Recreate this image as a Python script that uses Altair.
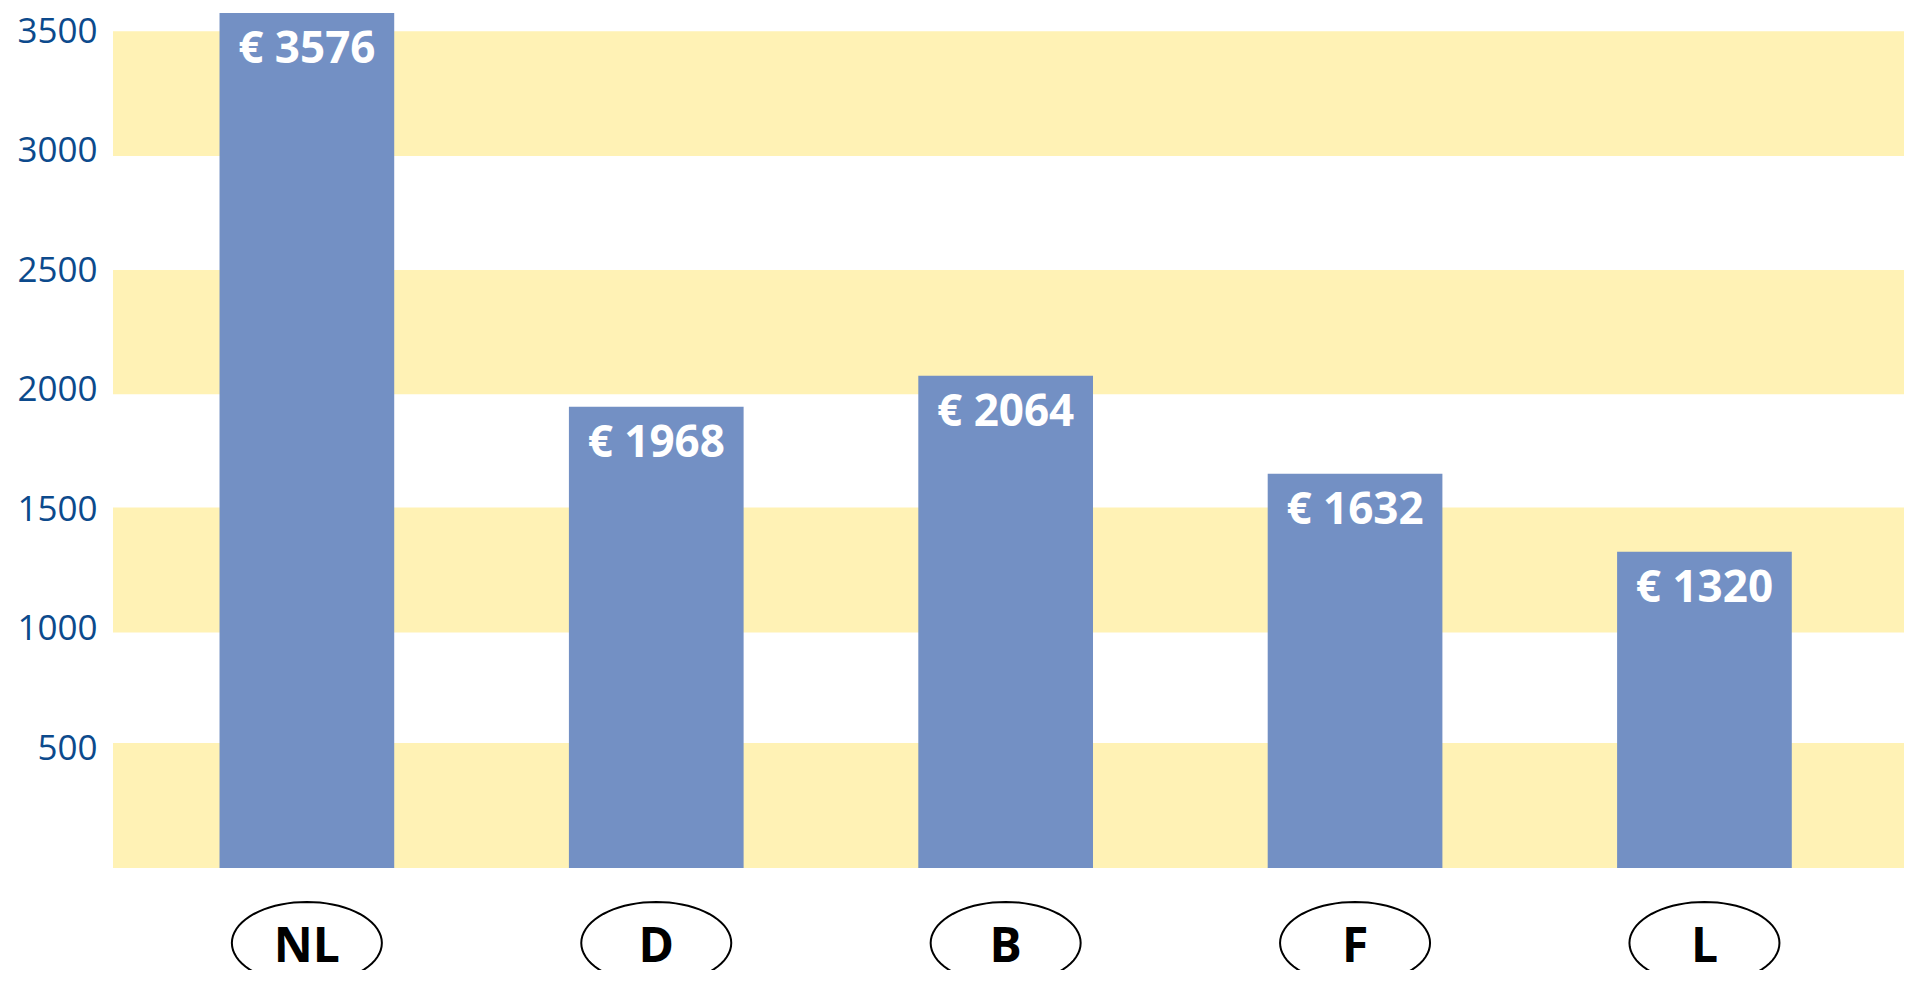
import math
import altair as alt
import pandas as pd

# ---- data ----
countries = ["NL", "D", "B", "F", "L"]
bar_heights = [3576, 1929, 2059, 1649, 1323]      # bar heights as drawn
label_values = [3576, 1968, 2064, 1632, 1320]     # printed amounts
band_lo = [0, 985, 1981, 2978]
band_hi = [523, 1508, 2501, 3500]
tick_values = [500, 1000, 1500, 2000, 2500, 3000, 3500]

# ---- layout ----
W = 1791
H = 860
Y_MAX = 3597
FONT = "Open Sans"
BAR_COLOR = "#7390c4"
BAND_COLOR = "#fff2b5"
AXIS_COLOR = "#0c4a8c"

bars_df = pd.DataFrame({
    "country": countries,
    "value": bar_heights,
    "label": ["€ " + str(v) for v in label_values],
})
bands_df = pd.DataFrame({"lo": band_lo, "hi": band_hi})

x_scale = alt.Scale(domain=countries, paddingInner=0.5, paddingOuter=0.313, align=0.487)
y_scale = alt.Scale(domain=[0, Y_MAX], nice=False, zero=True)

y_axis = alt.Axis(
    values=tick_values, format="d", title=None, grid=False, domain=False, ticks=False,
    labelFont=FONT, labelFontSize=35, labelColor=AXIS_COLOR, labelPadding=16,
    labelBaseline="middle",
)

bands = alt.Chart(bands_df).mark_rect(color=BAND_COLOR).encode(
    x=alt.value(0), x2=alt.value(W),
    y=alt.Y("lo:Q", scale=y_scale, axis=y_axis), y2="hi:Q",
)

bars = alt.Chart(bars_df).mark_bar(color=BAR_COLOR).encode(
    x=alt.X("country:N", scale=x_scale, axis=None, sort=countries),
    y=alt.Y("value:Q", scale=y_scale),
)

bar_text = alt.Chart(bars_df).mark_text(
    color="white", font=FONT, fontSize=44, fontWeight="bold",
    baseline="alphabetic", align="center", dy=50,
).encode(
    x=alt.X("country:N", scale=x_scale, axis=None, sort=countries),
    y=alt.Y("value:Q", scale=y_scale),
    text="label:N",
)

# ellipse outline as a symbol path (unit box, aspect 1 : 0.547)
ry = 0.547
pts = []
for k in range(72):
    a = 2 * math.pi * k / 72
    pts.append(f"{math.cos(a):.4f},{ry * math.sin(a):.4f}")
ellipse_path = "M" + " L".join(pts) + " Z"

ellipses = alt.Chart(bars_df).mark_point(
    shape=ellipse_path, filled=True, fill="white", stroke="black",
    strokeWidth=2, size=22500, opacity=1,
).encode(
    x=alt.X("country:N", scale=x_scale, axis=None, sort=countries),
    y=alt.value(935),
)

ellipse_text = alt.Chart(bars_df).mark_text(
    color="black", font=FONT, fontSize=48, fontWeight="bold",
    baseline="alphabetic", align="center",
).encode(
    x=alt.X("country:N", scale=x_scale, axis=None, sort=countries),
    y=alt.value(954),
    text="country:N",
)

chart = alt.layer(bands, bars, bar_text, ellipses, ellipse_text).properties(
    width=W, height=H,
    background="white",
    autosize=alt.AutoSizeParams(type="none"),
    padding={"left": 105, "top": 0, "right": 0, "bottom": 102},
).configure_view(strokeWidth=0, stroke="transparent")

chart.save("out.html", embed_options={"renderer": "svg", "actions": False})
